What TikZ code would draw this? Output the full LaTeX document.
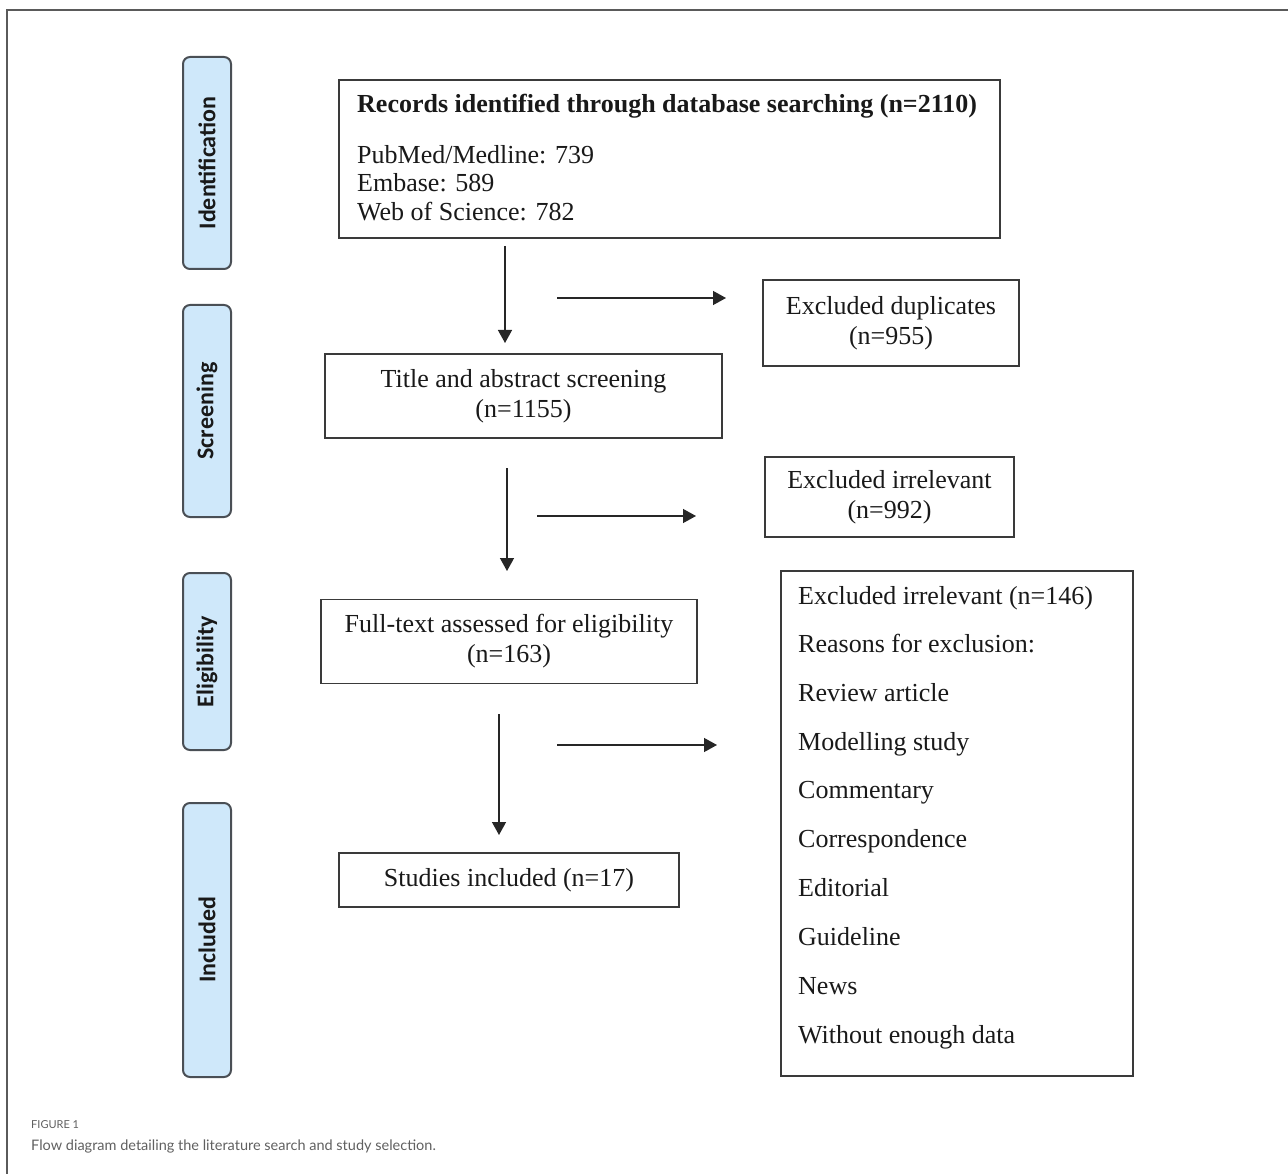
\documentclass[tikz,border=0pt]{standalone}
\usepackage{fontspec}
\setmainfont{Liberation Serif}
\newfontfamily\labfont{Carlito}
\newfontfamily\capfont{Lato}
\usetikzlibrary{arrows.meta}
\definecolor{boxline}{HTML}{3A3A3A}
\definecolor{stagefill}{HTML}{CFE8FA}
\definecolor{stageline}{HTML}{4A4F55}
\definecolor{framecol}{HTML}{5A5A5A}
\definecolor{capcol}{HTML}{606060}
\tikzset{
  x=1pt,y=-1pt,
  stagebox/.style={draw=stageline,fill=stagefill,line width=2pt,rounded corners=7pt,minimum width=48pt,inner sep=0pt},
  stagetext/.style={font=\labfont\bfseries\fontsize{24}{24}\selectfont,rotate=90,text=black!90},
  flowbox/.style={draw=boxline,line width=1.3pt,inner sep=0pt},
  boxtext/.style={font=\fontsize{26}{30}\selectfont,align=center,inner sep=0pt,text=black!90},
  lefttext/.style={font=\fontsize{26}{29}\selectfont,anchor=base west,inner sep=0pt,text=black!90},
  flowarrow/.style={draw=black!85,line width=1.4pt,-{Triangle[length=13pt,width=14pt]}}
}
\begin{document}
\begin{tikzpicture}
\useasboundingbox (0,0) rectangle (1288,1174);
% outer frame
\draw[framecol,line width=1.3pt] (7,1174) -- (7,10) -- (1288,10);
% stage labels
\node[stagebox,minimum height=212pt] (sid) at (207,163) {};
\node[stagetext] (tid) at (sid.center) {Identification};
\node[stagebox,minimum height=212pt] (ssc) at (207,411) {};
\node[stagetext] (tsc) at (ssc.center) {Screening};
\node[stagebox,minimum height=177pt] (sel) at (207,661.5) {};
\node[stagetext] (tel) at (sel.center) {Eligibility};
\node[stagebox,minimum height=274pt] (sin) at (207,940) {};
\node[stagetext] (tin) at (sin.center) {Included};
% records box
\node[flowbox,minimum width=661pt,minimum height=158pt] (rec) at (669.5,159) {};
\node[lefttext,font=\bfseries\fontsize{26}{29}\selectfont] (rec1) at (357,113) {Records identified through database searching (n=2110)};
\node[lefttext] (rec2) at (357,164) {PubMed/Medline: 739};
\node[lefttext] (rec3) at (357,192) {Embase: 589};
\node[lefttext] (rec4) at (357,221) {Web of Science: 782};
% duplicates
\node[flowbox,minimum width=256pt,minimum height=86pt] (dup) at (891,323) {};
\node[boxtext] (duptext) at (dup.center) {Excluded duplicates\\(n=955)};
% title/abstract
\node[flowbox,minimum width=397pt,minimum height=84pt] (tas) at (523.5,396) {};
\node[boxtext] (tastext) at (tas.center) {Title and abstract screening\\(n=1155)};
% irrelevant
\node[flowbox,minimum width=249pt,minimum height=80pt] (irr) at (889.5,497) {};
\node[boxtext] (irrtext) at (irr.center) {Excluded irrelevant\\(n=992)};
% full text
\node[flowbox,minimum width=376pt,minimum height=84pt] (ft) at (509,641.5) {};
\node[boxtext] (fttext) at (ft.center) {Full-text assessed for eligibility\\(n=163)};
% exclusion list
\node[flowbox,minimum width=352pt,minimum height=505pt] (exl) at (957,823.5) {};
\node[lefttext] (e1) at (798,604) {Excluded irrelevant (n=146)};
\node[lefttext] (e2) at (798,652.5) {Reasons for exclusion:};
\node[lefttext] (e3) at (798,701) {Review article};
\node[lefttext] (e4) at (798,750) {Modelling study};
\node[lefttext] (e5) at (798,798.5) {Commentary};
\node[lefttext] (e6) at (798,847) {Correspondence};
\node[lefttext] (e7) at (798,896) {Editorial};
\node[lefttext] (e8) at (798,945) {Guideline};
\node[lefttext] (e9) at (798,994) {News};
\node[lefttext] (e10) at (798,1043) {Without enough data};
% included
\node[flowbox,minimum width=340pt,minimum height=54pt] (inc) at (509,880) {};
\node[boxtext] (inctext) at (inc.center) {Studies included (n=17)};
% arrows
\coordinate (d1s) at (505,246); \coordinate (d1e) at (505,343);
\coordinate (r1s) at (557,298); \coordinate (r1e) at (726,298);
\coordinate (d2s) at (507,468); \coordinate (d2e) at (507,571);
\coordinate (r2s) at (537,516); \coordinate (r2e) at (696,516);
\coordinate (d3s) at (499,714); \coordinate (d3e) at (499,835);
\coordinate (r3s) at (557,745); \coordinate (r3e) at (717,745);
\draw[flowarrow] (d1s) -- (d1e);
\draw[flowarrow] (r1s) -- (r1e);
\draw[flowarrow] (d2s) -- (d2e);
\draw[flowarrow] (r2s) -- (r2e);
\draw[flowarrow] (d3s) -- (d3e);
\draw[flowarrow] (r3s) -- (r3e);
% caption
\node[anchor=base west,inner sep=0pt,font=\capfont\fontsize{11}{11}\selectfont,text=capcol] (fig) at (31,1128) {FIGURE 1};
\node[anchor=base west,inner sep=0pt,font=\capfont\fontsize{14.5}{14.5}\selectfont,text=capcol] (cap) at (31,1150) {Flow diagram detailing the literature search and study selection.};
\end{tikzpicture}
\end{document}
